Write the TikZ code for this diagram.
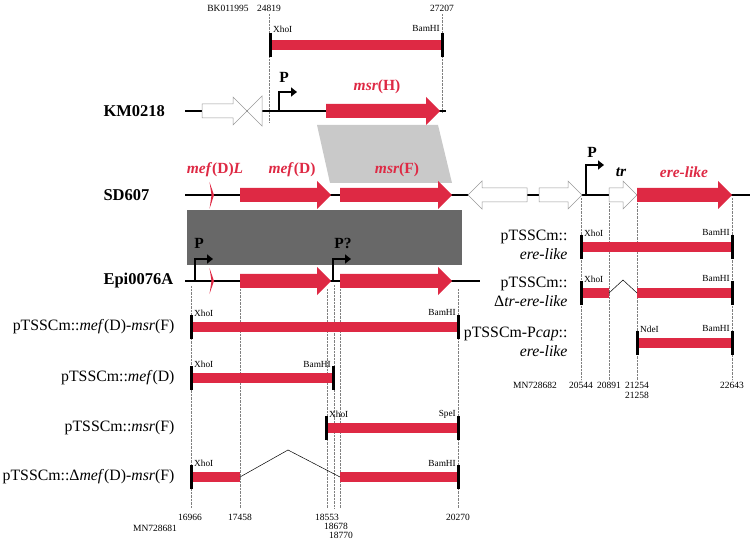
\documentclass[tikz,border=0pt]{standalone}
\usepackage{fontspec}
\setmainfont{Liberation Serif}
\usepackage{tikz}
\usetikzlibrary{arrows.meta}

\definecolor{genered}{RGB}{222,41,68}
\definecolor{darkblock}{RGB}{104,104,104}
\definecolor{lightblock}{RGB}{201,201,201}

\newcommand{\fwdgene}[4]{\filldraw[#4] (#1,#3-7) -- (#2-14,#3-7) -- (#2-14,#3-14) -- (#2,#3) -- (#2-14,#3+14) -- (#2-14,#3+7) -- (#1,#3+7) -- cycle;}
\newcommand{\revgene}[4]{\filldraw[#4] (#1,#3) -- (#1+14,#3-14) -- (#1+14,#3-7) -- (#2,#3-7) -- (#2,#3+7) -- (#1+14,#3+7) -- (#1+14,#3+14) -- cycle;}

\begin{document}
\begin{tikzpicture}[x=1pt,y=-1pt,
    gene/.style={fill=genered,draw=none},
    other/.style={fill=white,draw=gray!80,line width=0.5pt},
    backbone/.style={line width=1.3pt},
    promoter/.style={line width=2.4pt,line join=miter,-{Triangle[length=6pt,width=9pt]}},
    clone/.style={genered,line width=10pt},
    site/.style={line width=3pt},
    guide/.style={gray,densely dotted,line width=0.4pt},
    strain/.style={anchor=west,font=\fontsize{16.5}{18}\selectfont\bfseries},
    genename/.style={text=genered,font=\fontsize{15.5}{17}\selectfont\bfseries},
    construct/.style={anchor=east,align=right,font=\fontsize{15.8}{18.5}\selectfont},
    enzyme/.style={font=\fontsize{9.3}{10}\selectfont,inner sep=1pt},
    coord/.style={font=\fontsize{9.5}{10}\selectfont,inner sep=1pt}]

    \useasboundingbox (0,0) rectangle (750,540);

    \node[coord]              (bk)    at (228,8)    {BK011995};
    \node[coord]              (k1)    at (269,8)    {24819};
    \node[coord]              (k2)    at (442,8)    {27207};
    \draw[guide] (269,14) -- (269,122);
    \draw[guide] (442,14) -- (442,113);

    \draw[clone] (270,45) -- (442,45);
    \draw[site] (270,33) -- (270,57);
    \draw[site] (442,33) -- (442,57);
    \node[enzyme,anchor=west] (kx)    at (272,29)   {XhoI};
    \node[enzyme,anchor=east] (kb)    at (441,29)   {BamHI};

    \node[strain]             (km)    at (100,111)  {KM0218};
    \draw[backbone] (185,111) -- (446,111);
    \fwdgene{202}{247}{111}{other}
    \filldraw[other] (247,111) -- (262,96) -- (262,126) -- cycle;
    \draw[promoter] (279,111) |- (297,92);
    \node[font=\fontsize{15.5}{17}\selectfont\bfseries] (pk) at (284,77) {P};
    \fwdgene{326}{440}{111}{gene}
    \node[genename]           (msrH)  at (377,87)   {\textit{msr}(H)};

    \fill[lightblock] (317,125) -- (438,125) -- (452,183) -- (330,183) -- cycle;

    \node[strain]             (sd)    at (100,195)  {SD607};
    \draw[backbone] (185,195) -- (750,195);
    \filldraw[gene] (209.5,182) -- (214,195) -- (209.5,209) -- (211.5,195) -- cycle;
    \fwdgene{240}{331}{195}{gene}
    \fwdgene{340}{452}{195}{gene}
    \revgene{468}{527}{195}{other}
    \fwdgene{539}{582}{195}{other}
    \draw[promoter] (586,195) |- (604,165);
    \node[font=\fontsize{15.5}{17}\selectfont\bfseries] (ps) at (592,152) {P};
    \fwdgene{609}{637}{195}{other}
    \fwdgene{637}{732}{195}{gene}
    \node[genename]           (mefDL) at (215,170)  {\textit{mef}(D)\textit{L}};
    \node[genename]           (mefD)  at (292,170)  {\textit{mef}(D)};
    \node[genename]           (msrF)  at (397,170)  {\textit{msr}(F)};
    \node[font=\fontsize{15.5}{17}\selectfont\bfseries\itshape] (tr) at (621,172) {tr};
    \node[genename,font=\fontsize{15.5}{17}\selectfont\bfseries\itshape] (ere) at (684,172) {ere-like};

    \fill[darkblock] (187,210) rectangle (462,265);

    \node[strain]             (epi)   at (100,281)  {Epi0076A};
    \draw[backbone] (185,281) -- (480,281);
    \draw[promoter] (195,281) |- (213,259);
    \node[font=\fontsize{15.5}{17}\selectfont\bfseries] (pe1) at (199,243) {P};
    \filldraw[gene] (209.5,268) -- (214,281) -- (209.5,294) -- (211.5,281) -- cycle;
    \fwdgene{240}{331}{281}{gene}
    \fwdgene{340}{452}{281}{gene}
    \draw[promoter] (333,281) |- (351,259);
    \node[font=\fontsize{15.5}{17}\selectfont\bfseries] (pe2) at (343,243) {P?};

    \draw[guide] (191,286) -- (191,508);
    \draw[guide] (240,289) -- (240,508);
    \draw[guide] (327,289) -- (327,508);
    \draw[guide] (334,285) -- (334,508);
    \draw[guide] (340,289) -- (340,508);
    \draw[guide] (458,289) -- (458,508);

    \draw[guide] (581,198) -- (581,380);
    \draw[guide] (609,203) -- (609,380);
    \draw[guide] (637,203) -- (637,380);
    \draw[guide] (732,198) -- (732,380);

    \node[construct]          (c1)    at (178,327)  {pTSSCm::\textit{mef}(D)-\textit{msr}(F)};
    \draw[clone] (191,327) -- (458,327);
    \draw[site] (191,315) -- (191,339);
    \draw[site] (458,315) -- (458,339);
    \node[enzyme,anchor=west] (c1x)   at (193,313)  {XhoI};
    \node[enzyme,anchor=east] (c1b)   at (457,313)  {BamHI};

    \node[construct]          (c2)    at (178,378)  {pTSSCm::\textit{mef}(D)};
    \draw[clone] (191,378) -- (333,378);
    \draw[site] (191,366) -- (191,390);
    \draw[site] (333,366) -- (333,390);
    \node[enzyme,anchor=west] (c2x)   at (193,364)  {XhoI};
    \node[enzyme,anchor=east] (c2b)   at (332,364)  {BamHI};

    \node[construct]          (c3)    at (178,428)  {pTSSCm::\textit{msr}(F)};
    \draw[clone] (326,428) -- (458,428);
    \draw[site] (326,416) -- (326,440);
    \draw[site] (458,416) -- (458,440);
    \node[enzyme,anchor=west] (c3x)   at (328,414)  {XhoI};
    \node[enzyme,anchor=east] (c3s)   at (457,414)  {SpeI};

    \node[construct]          (c4)    at (178,477)  {pTSSCm::Δ\textit{mef}(D)-\textit{msr}(F)};
    \draw[clone] (191,477) coordinate (d1) -- (240,477) coordinate (d2);
    \draw[clone] (340,477) coordinate (d3) -- (458,477);
    \draw[site] (191,465) -- (191,489);
    \draw[site] (458,465) -- (458,489);
    \coordinate (d4) at (288,450);
    \draw[line width=0.5pt] (d2) -- (d4) -- (d3);
    \node[enzyme,anchor=west] (c4x)   at (193,463)  {XhoI};
    \node[enzyme,anchor=east] (c4b)   at (457,463)  {BamHI};

    \node[coord]              (n1)    at (190,517)  {16966};
    \node[coord]              (mn1)   at (155,528)  {MN728681};
    \node[coord]              (n2)    at (240,517)  {17458};
    \node[coord]              (n3)    at (327,517)  {18553};
    \node[coord]              (n4)    at (336,526)  {18678};
    \node[coord]              (n5)    at (341,535)  {18770};
    \node[coord]              (n6)    at (458,517)  {20270};

    \node[construct]          (r1)    at (571,245)  {pTSSCm::\\\textit{ere-like}};
    \draw[clone] (581,247) -- (732,247);
    \draw[site] (581,235) -- (581,259);
    \draw[site] (732,235) -- (732,259);
    \node[enzyme,anchor=west] (r1x)   at (583,233)  {XhoI};
    \node[enzyme,anchor=east] (r1b)   at (731,233)  {BamHI};

    \node[construct]          (r2)    at (571,292)  {pTSSCm::\\Δ\textit{tr-ere-like}};
    \draw[clone] (581,293) coordinate (e1) -- (609,293) coordinate (e2);
    \draw[clone] (637,293) coordinate (e3) -- (732,293);
    \draw[site] (581,281) -- (581,305);
    \draw[site] (732,281) -- (732,305);
    \coordinate (e4) at (623,280);
    \draw[line width=0.5pt] (e2) -- (e4) -- (e3);
    \node[enzyme,anchor=west] (r2x)   at (583,279)  {XhoI};
    \node[enzyme,anchor=east] (r2b)   at (731,279)  {BamHI};

    \node[construct]          (r3)    at (571,342)  {pTSSCm-P\textit{cap}::\\\textit{ere-like}};
    \draw[clone] (637,343) -- (732,343);
    \draw[site] (637,331) -- (637,355);
    \draw[site] (732,331) -- (732,355);
    \node[enzyme,anchor=west] (r3n)   at (639,329)  {NdeI};
    \node[enzyme,anchor=east] (r3b)   at (731,329)  {BamHI};

    \node[coord]              (mn2)   at (535,385)  {MN728682};
    \node[coord]              (m1)    at (581,385)  {20544};
    \node[coord]              (m2)    at (609,385)  {20891};
    \node[coord]              (m3)    at (637,385)  {21254};
    \node[coord]              (m4)    at (637,395)  {21258};
    \node[coord]              (m5)    at (732,385)  {22643};
  \end{tikzpicture}
\end{document}
